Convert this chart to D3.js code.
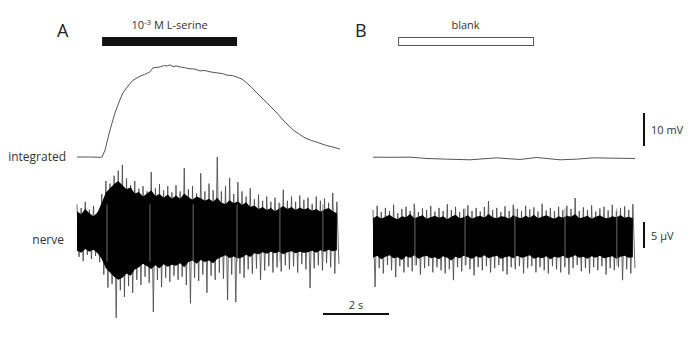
<!DOCTYPE html>
<html>
<head>
<meta charset="utf-8">
<script src="https://cdn.jsdelivr.net/npm/d3@7"></script>
<style>
  body { margin: 0; background: #fff; }
  svg text { font-family: "Open Sans", "Liberation Sans", sans-serif; }
</style>
</head>
<body>
<div id="chart"></div>
<script>
// Integrated response (mV above baseline), panel A: [time s, mV]
const integratedA = [
  [0, 0], [0.39, 0], [0.70, -0.1], [0.76, 0], [0.85, 2.1], [1.0, 8.2], [1.15, 13.3],
  [1.30, 17.3], [1.39, 19.4], [1.52, 21.2], [1.70, 23.3], [1.91, 24.5], [2.05, 25.0],
  [2.21, 25.8], [2.30, 27.0], [2.52, 27.3], [2.62, 27.7], [2.73, 27.6], [2.82, 27.9],
  [2.91, 27.4], [3.02, 27.6], [3.12, 27.3], [3.25, 27.1], [3.42, 26.7], [3.55, 26.7],
  [3.73, 26.1], [3.88, 26.2], [4.03, 25.8], [4.24, 25.5], [4.40, 25.3], [4.55, 24.8],
  [4.70, 24.7], [4.85, 24.2], [5.00, 23.6], [5.15, 22.4], [5.30, 21.0], [5.45, 19.4],
  [5.76, 16.4], [6.06, 13.3], [6.30, 10.6], [6.55, 8.2], [6.75, 6.8], [6.91, 5.8],
  [7.10, 5.0], [7.27, 4.5], [7.52, 3.6], [7.76, 3.0], [7.97, 2.4]
];
// Integrated, panel B (blank)
const integratedB = [
  [0, 0.1], [0.62, 0.06], [1.12, 0.1], [1.63, -0.3], [2.23, -0.5], [2.94, -0.7],
  [3.75, -0.1], [4.15, -0.4], [4.45, -0.6], [4.96, 0], [5.67, -0.7], [6.17, -0.5],
  [6.68, -0.1], [7.28, -0.2], [7.94, -0.3]
];

// Nerve recording, sampled every 0.125 s (µV)
const step = 0.125;
// dense core of the trace
const coreHiA = [4.2, 3.6, 4.6, 3.8, 3.2, 4.0, 5.8, 7.8,
  8.6, 9.4, 10.0, 9.2, 8.4, 8.8, 7.6, 7.9,
  7.0, 7.6, 8.2, 7.1, 7.5, 6.8, 7.4, 6.6,
  7.2, 6.6, 7.6, 6.9, 6.4, 7.0, 6.7, 6.2,
  6.6, 6.0, 6.8, 5.8, 5.6, 6.3, 5.7, 6.1,
  5.4, 5.9, 5.0, 5.3, 4.6, 5.0, 4.4, 4.8,
  4.2, 4.7, 5.2, 4.6, 5.0, 4.4, 4.9, 4.5,
  4.8, 4.3, 4.6, 4.1, 4.5, 4.8, 4.2, 3.8];
const coreLoA = [-3.4, -3.8, -3.1, -3.6, -3.2, -3.9, -5.0, -6.8,
  -7.6, -8.4, -9.0, -8.6, -7.8, -8.2, -7.0, -6.6,
  -5.9, -6.4, -6.9, -6.2, -6.8, -6.0, -6.5, -6.1,
  -6.3, -5.8, -6.6, -5.6, -5.3, -5.9, -5.2, -5.6,
  -5.3, -5.8, -5.0, -4.6, -4.3, -4.8, -4.5, -4.9,
  -4.7, -4.2, -4.6, -3.9, -4.1, -3.7, -4.0, -3.6,
  -3.9, -3.6, -4.1, -3.7, -3.5, -3.9, -3.6, -3.8,
  -3.7, -3.4, -3.8, -3.3, -3.6, -3.2, -3.5, -3.3];
const coreHiB = [3.6, 4.1, 3.5, 3.9, 4.3, 3.7, 3.4, 4.0, 3.8, 4.4, 3.6, 3.9, 4.2, 3.5, 3.8, 4.1,
  3.7, 4.0, 3.4, 3.9, 4.3, 3.6, 3.8, 4.2, 3.5, 3.9, 4.1, 3.7, 4.4, 3.8, 3.6, 4.0,
  3.9, 3.5, 4.2, 3.8, 3.6, 4.1, 3.7, 4.3, 3.6, 3.9, 4.2, 3.8, 3.5, 4.0, 3.7, 4.1,
  3.9, 4.4, 3.6, 3.8, 4.1, 3.5, 3.9, 4.2, 3.7, 3.6, 4.0, 3.8, 4.2, 3.7, 3.9, 3.6];
const coreLoB = [-4.0, -3.6, -4.3, -3.8, -3.5, -4.1, -3.9, -4.4, -3.7, -4.0, -3.5, -4.2, -3.8, -3.6, -4.1, -3.9,
  -4.3, -3.7, -4.0, -4.5, -3.8, -4.1, -3.6, -3.9, -4.2, -3.7, -4.0, -3.5, -4.1, -3.8, -3.6, -4.2,
  -3.9, -3.7, -4.1, -3.6, -4.0, -3.8, -3.5, -4.2, -3.9, -4.1, -3.7, -4.3, -3.8, -4.0, -3.6, -4.1,
  -3.9, -3.5, -4.0, -3.8, -4.2, -3.7, -4.0, -3.6, -4.1, -3.9, -3.7, -4.2, -3.8, -3.6, -4.0, -3.9];

// spike extremes
const spikeHiA = [5.5, 4.8, 6.0, 4.5, 5.2, 4.0, 7.5, 10.0, 9.5, 11.0, 12.0, 13.1, 10.5, 9.2, 10.0, 8.5,
  9.0, 8.0, 11.7, 8.6, 9.4, 8.2, 9.0, 7.8, 9.2, 8.0, 12.5, 8.4, 9.0, 7.6, 11.5, 8.0,
  9.5, 8.2, 14.6, 8.0, 9.0, 10.6, 7.5, 9.8, 8.0, 7.0, 8.6, 6.5, 7.4, 6.2, 7.0, 6.0,
  6.8, 5.8, 8.3, 6.2, 7.0, 6.0, 7.2, 6.4, 6.8, 5.6, 7.0, 6.2, 6.6, 5.8, 7.7, 6.0];
const spikeLoA = [-4.6, -5.4, -4.2, -5.0, -4.4, -5.6, -8.0, -10.5, -9.8, -16.3, -11.0, -12.3, -10.2, -11.5, -9.0, -10.0,
  -8.4, -9.6, -15.2, -9.0, -10.4, -8.6, -9.4, -8.2, -9.0, -8.4, -10.0, -13.5, -8.6, -9.2, -8.0, -11.5,
  -8.2, -9.0, -7.6, -8.8, -12.9, -8.0, -13.3, -7.8, -8.6, -7.0, -7.8, -6.8, -9.0, -7.2, -6.4, -7.6,
  -6.6, -7.4, -6.2, -7.0, -6.4, -7.6, -6.0, -7.0, -10.6, -6.8, -6.2, -7.2, -5.8, -6.6, -7.8, -6.0];
const spikeHiB = [5.2, 6.0, 4.8, 5.6, 5.0, 6.2, 4.6, 5.4, 5.8, 5.0, 6.4, 4.8, 5.5, 5.2, 6.0, 4.9,
  5.6, 5.0, 6.3, 5.2, 5.8, 4.8, 5.4, 6.1, 5.0, 5.6, 4.9, 5.8, 6.9, 5.2, 5.6, 4.8,
  5.9, 5.0, 6.2, 5.4, 5.0, 6.0, 5.3, 5.7, 4.9, 6.4, 5.1, 5.6, 5.0, 5.8, 5.2, 6.0,
  5.4, 7.5, 5.0, 5.7, 5.2, 6.1, 4.9, 5.5, 5.8, 5.1, 6.2, 5.0, 5.6, 5.9, 5.2, 6.3];
const spikeLoB = [-9.6, -6.0, -7.0, -5.4, -6.4, -7.7, -5.6, -6.8, -5.8, -6.6, -5.4, -7.2, -6.0, -5.6, -6.8, -5.8,
  -6.4, -7.0, -6.2, -8.3, -5.8, -6.6, -5.4, -6.2, -7.4, -5.8, -6.4, -5.6, -6.8, -6.0, -5.4, -6.6,
  -7.2, -5.8, -6.2, -5.6, -7.0, -6.0, -5.6, -6.8, -5.8, -6.4, -7.0, -5.6, -6.2, -6.8, -5.8, -7.2,
  -6.0, -5.4, -6.6, -6.0, -7.0, -5.8, -6.4, -5.6, -7.2, -6.0, -6.4, -5.8, -8.3, -6.2, -7.0, -6.0];

// lighter streaks across the core (s)
const streaksA = [0.91, 2.21, 3.52, 4.85, 6.15, 7.45];
const streaksB = [1.27, 2.79, 4.30, 5.82, 7.39];

// stimulus bars (s)
const stimA = [0.76, 4.85];
const stimB = [0.76, 4.85];

const width = 700, height = 337;
const svg = d3.select("#chart").append("svg")
  .attr("width", width).attr("height", height);

// 33 px per second in both panels
const xA = d3.scaleLinear().domain([0, 8]).range([77, 77 + 8 * 33]);
const xB = d3.scaleLinear().domain([0, 8]).range([373, 373 + 8 * 33]);
// integrated: 10 mV = 33 px
const yIntA = d3.scaleLinear().domain([0, 10]).range([157, 124]);
const yIntB = d3.scaleLinear().domain([0, 10]).range([157.5, 124.5]);
// nerve: 5 µV = 26 px
const yNerveA = d3.scaleLinear().domain([0, 5]).range([233, 207]);
const yNerveB = d3.scaleLinear().domain([0, 5]).range([237, 211]);

function drawIntegrated(data, x, y) {
  svg.append("path")
    .datum(data)
    .attr("fill", "none")
    .attr("stroke", "#555")
    .attr("stroke-width", 1)
    .attr("d", d3.line().x(d => x(d[0])).y(d => y(d[1])));
}
drawIntegrated(integratedA, xA, yIntA);
drawIntegrated(integratedB, xB, yIntB);

function drawNerve(x, y, coreHi, coreLo, hi, lo, streaks) {
  const g = svg.append("g");
  // zigzag trace: up at each sample, down half a sample later
  const pts = [];
  hi.forEach((v, i) => {
    pts.push([i * step, v]);
    pts.push([i * step + step / 2, lo[i]]);
  });
  g.append("path")
    .datum(pts)
    .attr("fill", "none")
    .attr("stroke", "#444")
    .attr("stroke-width", 0.8)
    .attr("d", d3.line().x(d => x(d[0])).y(d => y(d[1])));

  const core = coreHi.map((v, i) => [i * step, v, coreLo[i]]);
  g.append("path")
    .datum(core)
    .attr("fill", "#000")
    .attr("d", d3.area().x(d => x(d[0])).y0(d => y(d[2])).y1(d => y(d[1])));

  g.selectAll("line.streak")
    .data(streaks)
    .enter().append("line")
    .attr("class", "streak")
    .attr("x1", d => x(d)).attr("x2", d => x(d))
    .attr("y1", y(5.5)).attr("y2", y(-5.5))
    .attr("stroke", "#888")
    .attr("stroke-width", 0.8);
}
drawNerve(xA, yNerveA, coreHiA, coreLoA, spikeHiA, spikeLoA, streaksA);
drawNerve(xB, yNerveB, coreHiB, coreLoB, spikeHiB, spikeLoB, streaksB);

// stimulus bars
svg.append("rect")
  .attr("x", xA(stimA[0])).attr("y", 37)
  .attr("width", xA(stimA[1]) - xA(stimA[0])).attr("height", 9)
  .attr("fill", "#111");
svg.append("rect")
  .attr("x", xB(stimB[0]) + 0.5).attr("y", 37.5)
  .attr("width", xB(stimB[1]) - xB(stimB[0])).attr("height", 8)
  .attr("fill", "#fff").attr("stroke", "#555").attr("stroke-width", 1);

const serine = svg.append("text")
  .attr("x", (xA(stimA[0]) + xA(stimA[1])) / 2).attr("y", 29)
  .attr("text-anchor", "middle").attr("font-size", 11).attr("fill", "#333");
serine.append("tspan").text("10");
serine.append("tspan").attr("font-size", 8).attr("dy", -4).text("-3");
serine.append("tspan").attr("dy", 4).text(" M L-serine");

svg.append("text")
  .attr("x", (xB(stimB[0]) + xB(stimB[1])) / 2).attr("y", 29)
  .attr("text-anchor", "middle").attr("font-size", 11).attr("fill", "#333")
  .text("blank");

// panel letters
svg.append("text").attr("x", 57).attr("y", 37).attr("font-size", 18).attr("fill", "#222").text("A");
svg.append("text").attr("x", 355).attr("y", 37).attr("font-size", 18).attr("fill", "#222").text("B");

// row labels
svg.append("text").attr("x", 66).attr("y", 161).attr("text-anchor", "end")
  .attr("font-size", 12).attr("fill", "#333").text("integrated");
svg.append("text").attr("x", 64).attr("y", 244).attr("text-anchor", "end")
  .attr("font-size", 12).attr("fill", "#333").text("nerve");

// scale bars
const mvLen = yIntA(0) - yIntA(10);
svg.append("line").attr("x1", 644).attr("x2", 644).attr("y1", 146).attr("y2", 146 - mvLen)
  .attr("stroke", "#111").attr("stroke-width", 2);
svg.append("text").attr("x", 651).attr("y", 134).attr("font-size", 11).attr("fill", "#333").text("10 mV");

const uvLen = yNerveB(0) - yNerveB(5);
svg.append("line").attr("x1", 644).attr("x2", 644).attr("y1", 248).attr("y2", 248 - uvLen)
  .attr("stroke", "#111").attr("stroke-width", 2);
svg.append("text").attr("x", 651).attr("y", 240).attr("font-size", 11).attr("fill", "#333").text("5 μV");

const sLen = xA(2) - xA(0);
svg.append("line").attr("x1", 323).attr("x2", 323 + sLen).attr("y1", 314).attr("y2", 314)
  .attr("stroke", "#111").attr("stroke-width", 2);
svg.append("text").attr("x", 323 + sLen / 2).attr("y", 309).attr("text-anchor", "middle")
  .attr("font-size", 11).attr("fill", "#333").text("2 s");
</script>
</body>
</html>
